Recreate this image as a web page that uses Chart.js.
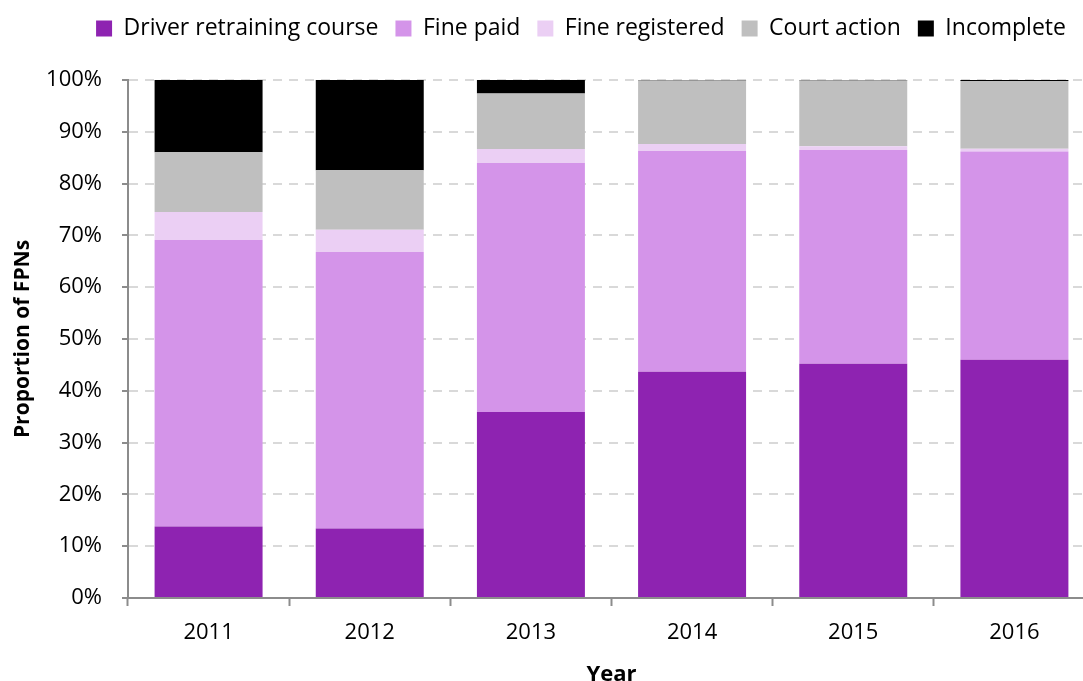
<!DOCTYPE html>
<html>
<head>
<meta charset="utf-8">
<script src="https://cdn.jsdelivr.net/npm/chart.js@4"></script>
<style>
  html, body { margin: 0; padding: 0; background: #fff; overflow: hidden; }
  #wrap { width: 1162px; height: 681px; }
</style>
</head>
<body>
<div id="wrap"><canvas id="chart" width="1162" height="681"></canvas></div>
<script>
// FPN outcomes by year, share of all notices (%)
const YEARS = ['2011', '2012', '2013', '2014', '2015', '2016'];
const RETRAINING = [13.8, 13.4, 35.9, 43.7, 45.2, 46.0];
const FINE_PAID = [55.3, 53.4, 48.1, 42.6, 41.3, 40.2];
const FINE_REGISTERED = [5.4, 4.3, 2.7, 1.35, 0.7, 0.55];
const COURT_ACTION = [11.55, 11.5, 10.7, 12.25, 12.7, 13.05];
const INCOMPLETE = [13.95, 17.4, 2.6, 0.1, 0.1, 0.2];
const Y_TICKS = [0, 10, 20, 30, 40, 50, 60, 70, 80, 90, 100];

const FONT = "'Open Sans', sans-serif";
const AXIS = '#8c8c8c', GRID = '#d9d9d9';

const series = [
  ['Driver retraining course', RETRAINING, '#8e23b1'],
  ['Fine paid', FINE_PAID, '#d494e9'],
  ['Fine registered', FINE_REGISTERED, '#ebcff4'],
  ['Court action', COURT_ACTION, '#bfbfbf'],
  ['Incomplete', INCOMPLETE, '#000000'],
];

Chart.defaults.font.family = FONT;
Chart.defaults.color = '#000';

new Chart(document.getElementById('chart'), {
  type: 'bar',
  data: {
    labels: YEARS,
    datasets: series.map(([label, data, color]) => ({
      label, data, backgroundColor: color, borderWidth: 0,
      categoryPercentage: 1, barPercentage: 0.67,
    })),
  },
  options: {
    responsive: false,
    animation: false,
    devicePixelRatio: 1,
    layout: { padding: 0 },
    plugins: {
      tooltip: { enabled: false },
      legend: {
        position: 'top',
        weight: 1000,
        labels: { boxWidth: 16, boxHeight: 16, padding: 17, font: { size: 23 }, color: '#000' },
      },
      // empty subtitle used as a gap between legend and plot
      subtitle: {
        display: true, text: ' ', position: 'top', weight: 500,
        font: { size: 1, lineHeight: 1 }, padding: { top: 0, bottom: 29 },
      },
    },
    scales: {
      x: {
        stacked: true,
        grid: { display: true, drawOnChartArea: false, drawTicks: true, tickLength: 8, tickColor: AXIS, tickWidth: 2, offset: true },
        border: { display: true, color: AXIS, width: 2 },
        ticks: { font: { size: 22 }, color: '#000', padding: 14 },
        title: { display: true, text: 'Year', font: { size: 22, weight: 'bold', lineHeight: 1 }, color: '#000', padding: { top: 0, bottom: -5 } },
        afterFit: (s) => { s.height = 83; },
      },
      y: {
        stacked: true,
        min: 0, max: 100,
        afterBuildTicks: (s) => { s.ticks = Y_TICKS.map((v) => ({ value: v })); },
        grid: {
          color: (c) => (c.tick && c.tick.value === 0 ? 'rgba(0,0,0,0)' : GRID),
          lineWidth: 2, tickLength: 6, tickColor: AXIS, tickWidth: 2, tickBorderDash: [],
        },
        border: { display: true, color: AXIS, width: 2, dash: [9, 7] },
        ticks: { font: { size: 22 }, color: '#000', padding: 20, callback: (v) => v + '%' },
        title: { display: true, text: 'Proportion of FPNs', font: { size: 21, weight: 'bold', lineHeight: 1.2 }, color: '#000', padding: { top: 10, bottom: 0 } },
        afterFit: (s) => { s.width = 128; },
      },
      spacer: {
        position: 'right', display: true,
        grid: { display: false }, border: { display: false }, ticks: { display: false },
        afterFit: (s) => { s.width = 67; },
      },
    },
  },
});
</script>
</body>
</html>
